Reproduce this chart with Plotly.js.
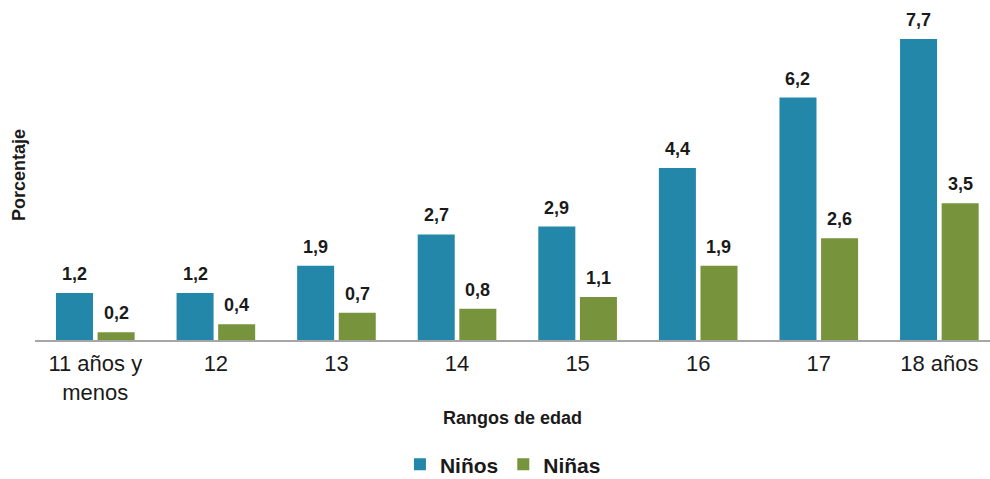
<!DOCTYPE html>
<html>
<head>
<meta charset="utf-8">
<script src="https://cdn.plot.ly/plotly-3.0.1.min.js"></script>
<style>html,body{margin:0;padding:0;background:#fff;}#chart{width:990px;height:479px;}</style>
</head>
<body>
<div id="chart"></div>
<script>
const categories = ["11 años y<br>menos", "12", "13", "14", "15", "16", "17", "18 años"];
const ninos = [1.2, 1.2, 1.9, 2.7, 2.9, 4.4, 6.2, 7.7];
const ninas = [0.2, 0.4, 0.7, 0.8, 1.1, 1.9, 2.6, 3.5];
const seriesNames = ["Niños", "Niñas"];
const colors = ["#2387AA", "#77933C"];

const FONT = "Liberation Sans, Arial, sans-serif";
const fmt = v => v.toFixed(1).replace(".", ",");

const traces = [
  {type: "bar", x: categories, y: ninos, name: seriesNames[0], marker: {color: colors[0]}, showlegend: false, hoverinfo: "skip"},
  {type: "bar", x: categories, y: ninas, name: seriesNames[1], marker: {color: colors[1]}, showlegend: false, hoverinfo: "skip"},
  {type: "scatter", mode: "markers", x: [null], y: [null], name: seriesNames[0], marker: {symbol: "square", size: 12, color: colors[0]}},
  {type: "scatter", mode: "markers", x: [null], y: [null], name: seriesNames[1], marker: {symbol: "square", size: 12, color: colors[1]}}
];

const annotations = [];
[ninos, ninas].forEach((arr, s) => {
  arr.forEach((v, i) => {
    annotations.push({
      x: i, y: v, xref: "x", yref: "y",
      text: "<b>" + fmt(v) + "</b>", showarrow: false,
      xshift: s === 0 ? -20.8 : 20.8, yshift: 19, yanchor: "middle",
      font: {family: FONT, size: 18, color: "#1a1a1a"}
    });
  });
});

const layout = {
  width: 990, height: 479,
  margin: {l: 35, r: 0, t: 10, b: 139, autoexpand: false},
  paper_bgcolor: "#fff", plot_bgcolor: "#fff",
  barmode: "group", bargap: 0.31, bargroupgap: 0.11,
  font: {family: FONT, color: "#1a1a1a"},
  xaxis: {
    type: "category", range: [-0.5, 7.42], showline: true, linecolor: "#A6A6A6", linewidth: 1.5,
    ticks: "", showgrid: false, zeroline: false, automargin: false, ticklabelstandoff: 3,
    tickfont: {family: FONT, size: 22, color: "#1a1a1a"},
    title: {text: "<b>Rangos de edad</b>", font: {family: FONT, size: 18, color: "#1a1a1a"}, standoff: 8}
  },
  yaxis: {
    range: [0, 8.44], showticklabels: false, ticks: "", showgrid: false, zeroline: false, showline: false, automargin: false,
    title: {text: "<b>Porcentaje</b>", font: {family: FONT, size: 18, color: "#1a1a1a"}, standoff: 3}
  },
  legend: {orientation: "h", x: 0.49, xanchor: "center", y: -0.44, yanchor: "bottom",
    font: {family: FONT, size: 21, color: "#1a1a1a", weight: "bold"}, itemwidth: 30, tracegroupgap: 0},
  annotations: annotations,
  showlegend: true
};

Plotly.newPlot("chart", traces, layout, {staticPlot: true});
</script>
</body>
</html>
